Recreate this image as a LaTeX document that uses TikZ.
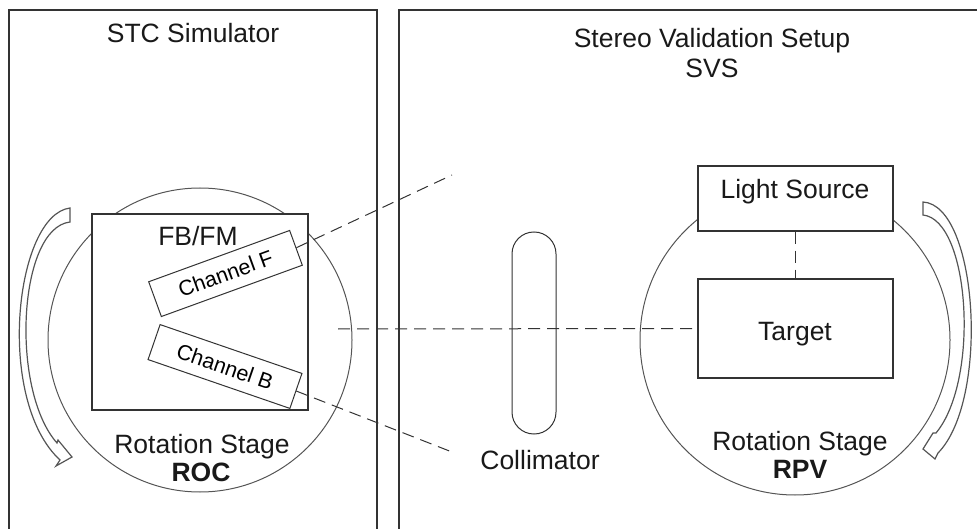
\documentclass[tikz,border=0pt]{standalone}
\usepackage{fontspec}
\setmainfont{Liberation Sans}
\definecolor{lc}{HTML}{333333}
\definecolor{rc}{HTML}{555555}
\begin{document}
\begin{tikzpicture}[x=1pt,y=-1pt,
  frame/.style={draw=lc, line width=1.2pt},
  box/.style={draw=lc, line width=1.1pt, fill=white, inner sep=0pt},
  chan/.style={draw=lc, line width=1pt, fill=white, minimum width=150pt, minimum height=37pt, inner sep=0pt, font=\fontsize{21.5}{24}\selectfont},
  lbl/.style={font=\fontsize{26.5}{30}\selectfont, anchor=base, inner sep=0pt, text=black!90},
  dsh/.style={draw=lc, line width=1pt, dash pattern=on 12pt off 7pt},
  ring/.style={draw=rc, line width=1pt},
  rotarrow/.style={draw=rc, line width=1.2pt, fill=white, line join=miter},
]
\useasboundingbox (0,0) rectangle (977,529);
\clip (0,0) rectangle (977,529);
% panels
\draw[frame] (9,10) rectangle (377,560);
\draw[frame] (399,10) rectangle (1000,560);
\node[lbl] (stc) at (193,43) {STC Simulator};
\node[lbl] (svs1) at (712,48) {Stereo Validation Setup};
\node[lbl] (svs2) at (712,78) {SVS};
% rotation stages
\draw[ring] (200,340) circle[radius=152pt];
\draw[ring] (795,340) circle[radius=155pt];
% FB/FM box
\node[box, minimum width=216pt, minimum height=196pt] (fbfm) at (200,312) {};
\node[lbl] (fbfmtxt) at (198,246) {FB/FM};
\node[chan, rotate=20] (chF) at (225.5,273.5) {Channel F};
\node[chan, rotate=-19] (chB) at (225,366.5) {Channel B};
% right boxes
\node[box, minimum width=195pt, minimum height=65pt] (ls) at (795.5,198.5) {};
\node[lbl] (lstxt) at (795,199) {Light Source};
\node[box, minimum width=195pt, minimum height=99pt] (tg) at (795.5,328.5) {};
\node[lbl] (tgtxt) at (795,341) {Target};
% collimator
\node[draw=lc, line width=1pt, rounded corners=21.9pt, minimum width=44pt, minimum height=202pt, inner sep=0pt] (coll) at (534,333) {};
\node[lbl] (colltxt) at (540,469) {Collimator};
% stage labels
\node[lbl] (rs1) at (202,453) {Rotation Stage};
\node[lbl, font=\fontsize{26.5}{30}\selectfont\bfseries] (roc) at (201,481) {ROC};
\node[lbl] (rs2) at (800,450) {Rotation Stage};
\node[lbl, font=\fontsize{26.5}{30}\selectfont\bfseries] (rpv) at (800,478) {RPV};
% dashed lines
\coordinate (uend) at (452,175);
\coordinate (lend) at (452,452);
\coordinate (hstart) at (338,329);
\draw[dsh] (chF.east) -- (uend);
\draw[dsh] (chB.east) -- (lend);
\draw[dsh] (hstart) -- (tg.west);
\draw[dsh] (ls.south) -- (tg.north);
% curved arrows
\draw[rotarrow] (70,208) .. controls (15,215) and (-5,400) .. (60,460)
  -- (56,466) -- (72,457) -- (58,440) -- (57,443)
  .. controls (10,390) and (18,228) .. (70,222) -- cycle;
\draw[rotarrow] (923,202) .. controls (978,205) and (990,400) .. (938,453)
  -- (935,459) -- (923,449) -- (933,433) -- (936,433)
  .. controls (980,380) and (970,220) .. (923,215) -- cycle;
\end{tikzpicture}
\end{document}
